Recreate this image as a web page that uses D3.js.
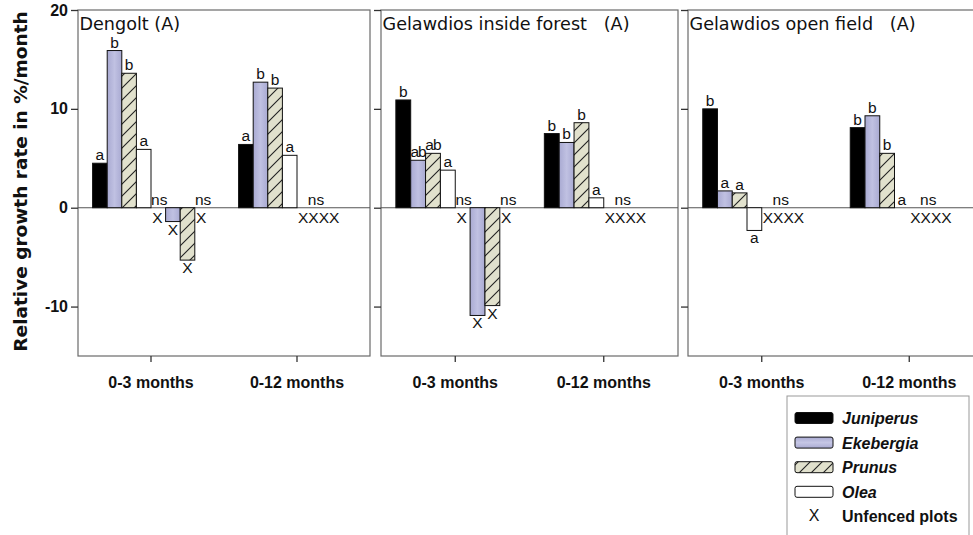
<!DOCTYPE html>
<html>
<head>
<meta charset="utf-8">
<script src="https://cdn.jsdelivr.net/npm/d3@7"></script>
<style>
  html, body { margin: 0; padding: 0; background: #fff; }
  svg { display: block; }
</style>
</head>
<body>
<svg id="chart" width="973" height="535"></svg>
<script>
// ---- data ----
const sites = ["Dengolt (A)", "Gelawdios inside forest   (A)", "Gelawdios open field   (A)"];
const periods = ["0-3 months", "0-12 months"];
const species = ["Juniperus", "Ekebergia", "Prunus", "Olea"];
const yTicks = [-10, 0, 10, 20];
const yDomain = [-15, 20];
const yTitle = "Relative growth rate in %/month";
const unfencedLabel = "Unfenced plots";

// fenced plots: [site][period][species]
const fencedValues = [
  [[4.5, 15.9, 13.6, 5.9], [6.4, 12.7, 12.1, 5.3]],
  [[10.9, 4.8, 5.5, 3.8], [7.5, 6.6, 8.6, 1.0]],
  [[10.0, 1.7, 1.5, -2.3], [8.1, 9.3, 5.5, 0]]
];
const fencedLetters = [
  [["a", "b", "b", "a"], ["a", "b", "b", "a"]],
  [["b", "ab", "ab", "a"], ["b", "b", "b", "a"]],
  [["b", "a", "a", "a"], ["b", "b", "b", "a"]]
];
// unfenced plots: [site][period][species]
const unfencedValues = [
  [[0, -1.4, -5.3, 0], [0, 0, 0, 0]],
  [[0, -10.9, -9.9, 0], [0, 0, 0, 0]],
  [[0, 0, 0, 0], [0, 0, 0, 0]]
];

// ---- layout ----
const svg = d3.select("#chart");
const yTop = 10, yBottom = 356;
const panels = [
  { left: 78, width: 292 },
  { left: 381, width: 297 },
  { left: 688, width: 295 }
];
const ARIAL = "'Liberation Sans', Arial, sans-serif";
const DEJAVU = "'DejaVu Sans', sans-serif";

const y = d3.scaleLinear().domain(yDomain).range([yBottom, yTop]);

// ---- fills ----
const defs = svg.append("defs");
const eg = defs.append("linearGradient").attr("id", "ekeb")
  .attr("x1", 0).attr("x2", 1).attr("y1", 0).attr("y2", 0);
eg.append("stop").attr("offset", 0).attr("stop-color", "#a9aad2");
eg.append("stop").attr("offset", 0.5).attr("stop-color", "#c0c1e2");
eg.append("stop").attr("offset", 1).attr("stop-color", "#a9aad2");
const egl = defs.append("linearGradient").attr("id", "ekebLegend")
  .attr("x1", 0).attr("x2", 0).attr("y1", 0).attr("y2", 1);
egl.append("stop").attr("offset", 0).attr("stop-color", "#a9aad2");
egl.append("stop").attr("offset", 0.5).attr("stop-color", "#c6c7e5");
egl.append("stop").attr("offset", 1).attr("stop-color", "#a9aad2");

const hatch = defs.append("pattern").attr("id", "hatch")
  .attr("patternUnits", "userSpaceOnUse").attr("width", 12).attr("height", 12);
hatch.append("rect").attr("width", 12).attr("height", 12).attr("fill", "#e1e1cd");
hatch.append("path").attr("d", "M-3,3 L3,-3 M0,12 L12,0 M9,15 L15,9")
  .attr("stroke", "#222").attr("stroke-width", 1.1);

const fills = ["#000", "url(#ekeb)", "url(#hatch)", "#fff"];
const legendFills = ["#000", "url(#ekebLegend)", "url(#hatch)", "#fff"];

svg.append("rect").attr("width", 973).attr("height", 535).attr("fill", "#fff");

// ---- y title ----
svg.append("text")
  .attr("transform", `translate(26.5,${(yTop + 353) / 2}) rotate(-90)`)
  .attr("text-anchor", "middle")
  .attr("font-family", DEJAVU).attr("font-weight", "bold").attr("font-size", 18.5)
  .attr("fill", "#111")
  .text(yTitle);

// ---- panels ----
sites.forEach((site, i) => {
  const p = panels[i];
  const g = svg.append("g").attr("transform", `translate(${p.left},0)`);

  const x0 = d3.scaleBand().domain(periods).range([0, p.width])
    .paddingInner(0.2).paddingOuter(0.1);
  const x1 = d3.scaleBand().domain(d3.range(8)).range([0, x0.bandwidth()]);

  // frame
  g.append("rect").attr("x", 0).attr("y", yTop)
    .attr("width", p.width).attr("height", yBottom - yTop)
    .attr("fill", "none").attr("stroke", "#6a6a6a").attr("stroke-width", 1.2);

  // y axis
  const ya = g.append("g").call(
    d3.axisLeft(y).tickValues(yTicks).tickSize(7).tickPadding(3)
      .tickFormat(i === 0 ? (d => String(d)) : () => "")
  );
  ya.select(".domain").remove();
  ya.selectAll(".tick line").attr("stroke", "#333").attr("stroke-width", 1.3);
  ya.selectAll("text").attr("font-family", ARIAL).attr("font-weight", "bold")
    .attr("font-size", 16).attr("fill", "#111");

  // x axis
  const xa = g.append("g").attr("transform", `translate(0,${yBottom})`).call(
    d3.axisBottom(x0).tickSize(6).tickPadding(15).tickSizeOuter(0)
  );
  xa.select(".domain").remove();
  xa.selectAll(".tick line").attr("stroke", "#333").attr("stroke-width", 1.3);
  xa.selectAll("text").attr("font-family", ARIAL).attr("font-weight", "bold")
    .attr("font-size", 16).attr("fill", "#111");

  // zero line
  g.append("line").attr("x1", 0).attr("x2", p.width)
    .attr("y1", y(0)).attr("y2", y(0))
    .attr("stroke", "#555").attr("stroke-width", 1.1);

  // title
  g.append("text").attr("x", 1.5).attr("y", 30)
    .style("white-space", "pre")
    .attr("font-family", DEJAVU).attr("font-size", 17.6).attr("fill", "#111")
    .text(site);

  const labelFont = sel => sel.attr("font-family", ARIAL).attr("font-size", 15.5).attr("fill", "#111");

  periods.forEach((per, j) => {
    const fv = fencedValues[i][j];
    const uv = unfencedValues[i][j];
    const vals = fv.concat(uv);
    const bars = vals.map((v, k) => ({ v, k, sp: k % 4 }));

    g.selectAll(null).data(bars.filter(d => d.v !== 0)).enter().append("rect")
      .attr("x", d => x0(per) + x1(d.k))
      .attr("width", x1.bandwidth())
      .attr("y", d => y(Math.max(0, d.v)))
      .attr("height", d => Math.abs(y(d.v) - y(0)))
      .attr("fill", d => fills[d.sp])
      .attr("stroke", "#111").attr("stroke-width", 1);

    const cx = k => x0(per) + x1(k) + x1.bandwidth() / 2;

    // significance letters for fenced plots
    fv.forEach((v, k) => {
      const txt = fencedLetters[i][j][k];
      g.append("text").call(labelFont)
        .attr("text-anchor", "middle")
        .attr("letter-spacing", txt.length > 1 ? -1 : 0)
        .attr("x", cx(k))
        .attr("y", v >= 0 ? y(v) - 3 : y(v) + 13)
        .text(txt);
    });

    // unfenced plots
    if (uv.every(v => v === 0)) {
      const x0u = x0(per) + x1(4);
      g.append("text").call(labelFont)
        .attr("x", x0u + 1).attr("y", y(0) + 15).text("XXXX");
      g.append("text").call(labelFont).attr("text-anchor", "middle")
        .attr("x", x0u + 19).attr("y", y(0) - 3).text("ns");
    } else {
      uv.forEach((v, idx) => {
        const k = idx + 4;
        if (v === 0) {
          g.append("text").call(labelFont).attr("text-anchor", "middle")
            .attr("x", cx(k) - 1).attr("y", y(0) + 15).text("X");
          g.append("text").call(labelFont).attr("text-anchor", "middle")
            .attr("x", cx(k) + 1).attr("y", y(0) - 3).text("ns");
        } else {
          g.append("text").call(labelFont).attr("text-anchor", "middle")
            .attr("x", cx(k)).attr("y", y(v) + 13).text("X");
        }
      });
    }
  });
});

// ---- legend ----
const lg = svg.append("g");
lg.append("rect").attr("x", 787).attr("y", 396).attr("width", 182).attr("height", 160)
  .attr("fill", "#fff").attr("stroke", "#999").attr("stroke-width", 1);
const rowY = i => 418 + i * 24.6;
species.forEach((s, i) => {
  lg.append("rect").attr("x", 795).attr("y", rowY(i) - 5.5)
    .attr("width", 38).attr("height", 11).attr("rx", 2)
    .attr("fill", legendFills[i]).attr("stroke", "#111").attr("stroke-width", 1);
  lg.append("text").attr("x", 842).attr("y", rowY(i) + 6)
    .attr("font-family", ARIAL).attr("font-weight", "bold").attr("font-style", "italic")
    .attr("font-size", 16).attr("fill", "#111").text(s);
});
lg.append("text").attr("x", 814).attr("y", rowY(4) + 5).attr("text-anchor", "middle")
  .attr("font-family", ARIAL).attr("font-size", 16).attr("fill", "#111").text("X");
lg.append("text").attr("x", 842).attr("y", rowY(4) + 6)
  .attr("font-family", ARIAL).attr("font-weight", "bold")
  .attr("font-size", 16).attr("fill", "#111").text(unfencedLabel);
</script>
</body>
</html>
